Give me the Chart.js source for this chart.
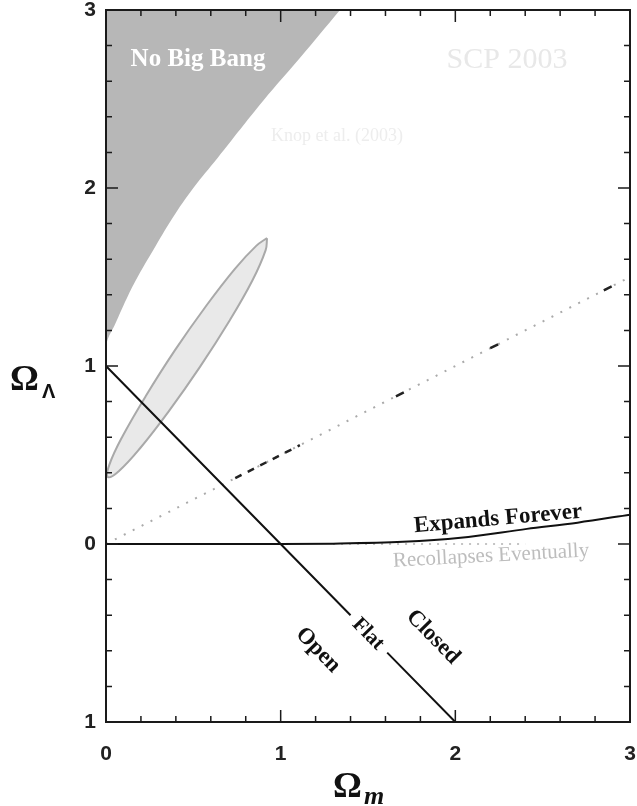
<!DOCTYPE html>
<html>
<head>
<meta charset="utf-8">
<script src="https://cdn.jsdelivr.net/npm/chart.js@4.4.0/dist/chart.umd.min.js"></script>
<style>
  html, body { margin: 0; padding: 0; background: #fff; }
  #wrap { width: 637px; height: 806px; }
</style>
</head>
<body>
<div id="wrap"><canvas id="chart"></canvas></div>
<script>
// Axis ticks (the minus sign of -1 is lost in the original scan)
var xTicks = [0, 1, 2, 3];
var xTickLabels = ['0', '1', '2', '3'];
var yTicks = [-1, 0, 1, 2, 3];
var yTickLabels = ['1', '0', '1', '2', '3'];

// "No Big Bang" boundary
var noBigBangX = [0, 0.01, 0.05, 0.1, 0.17, 0.27, 0.38, 0.5, 0.64, 0.9, 1.11, 1.34];
var noBigBangY = [1.1, 1.15, 1.23, 1.34, 1.48, 1.65, 1.83, 2.0, 2.17, 2.49, 2.73, 3.0];

// SCP confidence ellipse outline
var ellipseX = [0.922, 0.914, 0.838, 0.707, 0.538, 0.358, 0.195, 0.073, 0.011, 0.019, 0.094, 0.227, 0.395, 0.575, 0.738, 0.860, 0.922];
var ellipseY = [1.719, 1.651, 1.480, 1.254, 0.995, 0.744, 0.538, 0.409, 0.376, 0.445, 0.604, 0.830, 1.089, 1.340, 1.546, 1.675, 1.719];

// Flat universe line, with a gap for the "Flat" label
var flatX = [0, 1.40, 1.50, 1.61, 2.0];
var flatY = [1, -0.40, null, -0.61, -1.0];

// Expands forever / recollapses boundary
var expandX = [0, 1.0, 1.3, 1.7, 2.03, 2.41, 2.7, 3.0];
var expandY = [0, 0, 0.002, 0.012, 0.035, 0.085, 0.12, 0.165];
var recollX = [1.3, 2.4];
var recollY = [0, 0];

// Accelerating / decelerating line
var accelX = [0, 3];
var accelY = [0, 1.5];
var accelDarkX = [0.74, 1.11];
var accelDarkY = [0.37, 0.555];
var accelDotX = [1.66, 1.705, null, 2.2, 2.245, null, 2.85, 2.895];
var accelDotY = [0.83, 0.852, null, 1.1, 1.122, null, 1.425, 1.447];

function pts(xs, ys) {
  return xs.map(function (x, i) {
    return { x: x === null ? (xs[i - 1] + xs[i + 1]) / 2 : x, y: ys[i] };
  });
}

var serif = '"Liberation Serif", "Times New Roman", serif';
var sans = '"Liberation Sans", Arial, sans-serif';

function rotText(ctx, txt, x, y, deg, font, color) {
  ctx.save();
  ctx.translate(x, y);
  ctx.rotate(deg * Math.PI / 180);
  ctx.font = font;
  ctx.fillStyle = color;
  ctx.textAlign = 'center';
  ctx.textBaseline = 'middle';
  ctx.fillText(txt, 0, 0);
  ctx.restore();
}

var decorPlugin = {
  id: 'decor',
  afterDatasetsDraw: function (chart) {
    var ctx = chart.ctx;
    rotText(ctx, 'No Big Bang', 198, 60, 0, 'bold 25px ' + serif, '#ffffff');
    rotText(ctx, 'SCP 2003', 507, 60, 0, '30px ' + serif, '#e8e8e8');
    rotText(ctx, 'Knop et al. (2003)', 337, 136, 0, '18px ' + serif, '#ededed');
    rotText(ctx, 'Expands Forever', 498, 519, -5, 'bold 23px ' + serif, '#111');
    rotText(ctx, 'Recollapses Eventually', 491, 556, -3, '21px ' + serif, '#bdbdbd');
    rotText(ctx, 'Open', 318, 650, 45.6, 'bold 23px ' + serif, '#111');
    rotText(ctx, 'Flat', 368, 634, 45.6, 'bold 21px ' + serif, '#111');
    rotText(ctx, 'Closed', 433, 637, 45.6, 'bold 23px ' + serif, '#111');
  },
  afterDraw: function (chart) {
    var ctx = chart.ctx, a = chart.chartArea;
    var xs = chart.scales.x, ys = chart.scales.y;
    var i, v, p, len;
    ctx.save();
    ctx.strokeStyle = '#1a1a1a';
    ctx.lineWidth = 2;
    ctx.strokeRect(a.left, a.top, a.right - a.left, a.bottom - a.top);
    ctx.lineWidth = 1.5;
    ctx.beginPath();
    for (i = 1; i < 15; i++) {
      v = i * 0.2;
      len = (i % 5 === 0) ? 12 : 6;
      p = xs.getPixelForValue(v);
      ctx.moveTo(p, a.bottom); ctx.lineTo(p, a.bottom - len);
      ctx.moveTo(p, a.top); ctx.lineTo(p, a.top + len);
    }
    for (i = 1; i < 20; i++) {
      v = -1 + i * 0.2;
      len = (i % 5 === 0) ? 12 : 6;
      p = ys.getPixelForValue(v);
      ctx.moveTo(a.left, p); ctx.lineTo(a.left + len, p);
      ctx.moveTo(a.right, p); ctx.lineTo(a.right - len, p);
    }
    ctx.stroke();

    // axis titles
    ctx.fillStyle = '#111';
    ctx.textBaseline = 'alphabetic';
    ctx.textAlign = 'left';
    ctx.font = 'bold 36px ' + serif;
    ctx.fillText('\u03A9', 10, 390);
    ctx.font = 'bold 20px ' + sans;
    ctx.fillText('\u039B', 42, 398);
    ctx.font = 'bold 36px ' + serif;
    ctx.fillText('\u03A9', 333, 797);
    ctx.font = 'italic bold 26px ' + serif;
    ctx.fillText('m', 364, 804);
    ctx.restore();
  }
};

var tickFont = { family: sans, size: 21, weight: 'bold' };

new Chart(document.getElementById('chart'), {
  type: 'scatter',
  data: {
    datasets: [
      { data: pts(noBigBangX, noBigBangY), showLine: true, fill: 'end', backgroundColor: '#b7b7b7',
        borderWidth: 0, pointRadius: 0, tension: 0.4, order: 10 },
      { data: pts(ellipseX, ellipseY), showLine: true, fill: 'shape', backgroundColor: '#e9e9e9',
        borderColor: '#a9a9a9', borderWidth: 2, pointRadius: 0, tension: 0.4, order: 9 },
      { data: pts(accelX, accelY), showLine: true, borderColor: '#aaaaaa', borderWidth: 2,
        borderDash: [2, 8], pointRadius: 0, order: 5 },
      { data: pts(accelDarkX, accelDarkY), showLine: true, borderColor: '#222', borderWidth: 2.5,
        borderDash: [7, 7], pointRadius: 0, order: 4 },
      { data: pts(accelDotX, accelDotY), showLine: true, borderColor: '#222', borderWidth: 2.5,
        pointRadius: 0, order: 4 },
      { data: pts(recollX, recollY), showLine: true, borderColor: '#c4c4c4', borderWidth: 2,
        borderDash: [2, 6], pointRadius: 0, order: 3 },
      { data: pts(expandX, expandY), showLine: true, borderColor: '#111', borderWidth: 2,
        pointRadius: 0, cubicInterpolationMode: 'monotone', order: 2 },
      { data: pts(flatX, flatY), showLine: true, borderColor: '#111', borderWidth: 2,
        pointRadius: 0, spanGaps: false, order: 1 }
    ]
  },
  options: {
    responsive: true,
    maintainAspectRatio: false,
    animation: false,
    layout: { padding: { top: 10, right: 7, left: 0, bottom: 0 } },
    plugins: { legend: { display: false }, tooltip: { enabled: false } },
    scales: {
      x: {
        type: 'linear', min: 0, max: 3,
        grid: { display: false, drawTicks: false },
        border: { display: false },
        afterBuildTicks: function (s) { s.ticks = xTicks.map(function (v) { return { value: v }; }); },
        afterFit: function (s) { s.height = 84; s.paddingLeft = 0; s.paddingRight = 0; },
        ticks: { padding: 20, font: tickFont, color: '#222',
          callback: function (v) { return xTickLabels[xTicks.indexOf(v)]; } }
      },
      y: {
        type: 'linear', min: -1, max: 3,
        grid: { display: false, drawTicks: false },
        border: { display: false },
        afterBuildTicks: function (s) { s.ticks = yTicks.map(function (v) { return { value: v }; }); },
        afterFit: function (s) { s.width = 106; s.paddingTop = 0; s.paddingBottom = 0; },
        ticks: { padding: 10, font: tickFont, color: '#222',
          callback: function (v) { return yTickLabels[yTicks.indexOf(v)]; } }
      }
    }
  },
  plugins: [decorPlugin]
});
</script>
</body>
</html>
